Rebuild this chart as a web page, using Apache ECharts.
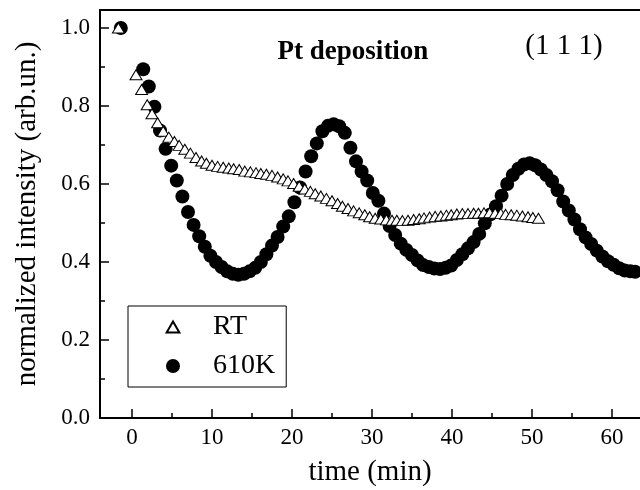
<!DOCTYPE html>
<html>
<head>
<meta charset="utf-8">
<script src="https://cdn.jsdelivr.net/npm/echarts@6/dist/echarts.min.js"></script>
<style>
  html, body { margin: 0; padding: 0; background: #fff; }
  #chart { width: 640px; height: 490px; }
</style>
</head>
<body>
<div id="chart"></div>
<script>
// Normalized (1 1 1) intensity during Pt deposition, time in minutes.

// RT series (open triangles)
const rtTime = [
  -1.7, 0.5, 1.2, 1.9, 2.5, 3.2, 3.9, 4.6, 5.3, 5.9, 6.6, 7.3, 8.0, 8.7, 9.3,
  10.0, 10.7, 11.4, 12.1, 12.7, 13.4, 14.1, 14.8, 15.5, 16.1, 16.8, 17.5, 18.2,
  18.9, 19.5, 20.2, 20.9, 21.6, 22.3, 22.9, 23.6, 24.3, 25.0, 25.7, 26.3, 27.0,
  27.7, 28.4, 29.1, 29.7, 30.4, 31.1, 31.8, 32.5, 33.1, 33.8, 34.5, 35.2, 35.9,
  36.5, 37.2, 37.9, 38.6, 39.3, 39.9, 40.6, 41.3, 42.0, 42.7, 43.3, 44.0, 44.7,
  45.4, 46.1, 46.7, 47.4, 48.1, 48.8, 49.5, 50.1, 50.8
];
const rtValue = [
  1.000, 0.880, 0.842, 0.803, 0.780, 0.757, 0.735, 0.720, 0.709, 0.699, 0.689,
  0.679, 0.668, 0.659, 0.653, 0.648, 0.645, 0.643, 0.641, 0.639, 0.637, 0.633,
  0.631, 0.629, 0.627, 0.625, 0.622, 0.618, 0.613, 0.608, 0.601, 0.594, 0.587,
  0.581, 0.575, 0.569, 0.563, 0.557, 0.550, 0.543, 0.537, 0.531, 0.526, 0.521,
  0.516, 0.512, 0.510, 0.508, 0.507, 0.507, 0.506, 0.507, 0.509, 0.511, 0.513,
  0.515, 0.517, 0.518, 0.520, 0.521, 0.523, 0.524, 0.524, 0.525, 0.525, 0.526,
  0.526, 0.525, 0.524, 0.522, 0.521, 0.520, 0.518, 0.516, 0.514, 0.512
];

// 610K series (filled circles)
const hotTime = [
  -1.4, 1.4, 2.1, 2.8, 3.5, 4.2, 4.9, 5.6, 6.3, 7.0, 7.7, 8.4, 9.1, 9.8, 10.5,
  11.2, 11.9, 12.6, 13.3, 14.0, 14.7, 15.4, 16.1, 16.8, 17.5, 18.2, 18.9, 19.6,
  20.3, 21.0, 21.7, 22.4, 23.1, 23.8, 24.5, 25.2, 25.9, 26.6, 27.3, 28.0, 28.7,
  29.4, 30.1, 30.8, 31.5, 32.2, 32.9, 33.6, 34.3, 35.0, 35.7, 36.4, 37.1, 37.8,
  38.5, 39.2, 39.9, 40.6, 41.3, 42.0, 42.7, 43.4, 44.1, 44.8, 45.5, 46.2, 46.9,
  47.6, 48.3, 49.0, 49.7, 50.4, 51.1, 51.8, 52.5, 53.2, 53.9, 54.6, 55.3, 56.0,
  56.7, 57.4, 58.1, 58.8, 59.5, 60.2, 60.9, 61.6, 62.3, 62.9
];
const hotValue = [
  1.000, 0.894, 0.850, 0.798, 0.737, 0.690, 0.647, 0.609, 0.568, 0.528, 0.495,
  0.466, 0.439, 0.416, 0.400, 0.387, 0.376, 0.370, 0.367, 0.370, 0.376, 0.385,
  0.400, 0.420, 0.442, 0.464, 0.491, 0.517, 0.553, 0.591, 0.632, 0.671, 0.704,
  0.735, 0.749, 0.753, 0.748, 0.731, 0.693, 0.658, 0.632, 0.609, 0.577, 0.557,
  0.524, 0.492, 0.469, 0.447, 0.431, 0.418, 0.404, 0.392, 0.387, 0.383, 0.382,
  0.385, 0.391, 0.405, 0.420, 0.435, 0.451, 0.472, 0.499, 0.522, 0.543, 0.570,
  0.600, 0.623, 0.639, 0.650, 0.653, 0.648, 0.637, 0.623, 0.607, 0.584, 0.555,
  0.532, 0.509, 0.484, 0.463, 0.446, 0.429, 0.414, 0.402, 0.393, 0.384, 0.378,
  0.376, 0.375
];

// Axis ticks and labels
const xMajorTicks = [0, 10, 20, 30, 40, 50, 60];
const xMinorTicks = [5, 15, 25, 35, 45, 55];
const yMajorTicks = [0.0, 0.2, 0.4, 0.6, 0.8, 1.0];
const yMinorTicks = [0.1, 0.3, 0.5, 0.7, 0.9];

const seriesNames = ['RT', '610K'];

// Legend triangle: a padded outline so it keeps its proportions inside the icon box
const legendTriangle = 'path://M0,0 M16,14 M1.65,12.5 L14.35,12.5 L8,1.5 Z';
const seriesIcons = [legendTriangle, 'circle'];

const FONT = '"Liberation Serif", "Times New Roman", serif';
const X_MIN = -4, X_MAX = 63.5, Y_MIN = 0, Y_MAX = 1.046;

function pairs(xs, ys) {
  return xs.map((x, i) => [x, ys[i]]);
}

const chart = echarts.init(document.getElementById('chart'), null, { renderer: 'canvas' });

const baseX = { type: 'value', min: X_MIN, max: X_MAX, splitLine: { show: false } };
const baseY = { type: 'value', min: Y_MIN, max: Y_MAX, splitLine: { show: false } };

chart.setOption({
  animation: false,
  backgroundColor: '#fff',
  grid: { left: 100, right: 0, top: 10, bottom: 72, containLabel: false, outerBoundsMode: 'none' },
  xAxis: [
    Object.assign({}, baseX, {
      position: 'bottom',
      name: 'time (min)',
      nameLocation: 'middle',
      nameGap: 40,
      nameTextStyle: { fontFamily: FONT, fontSize: 29, color: '#000' },
      axisLine: { show: true, onZero: false, lineStyle: { color: '#000', width: 2 } },
      axisTick: { show: true, inside: true, length: 9, customValues: xMajorTicks, lineStyle: { color: '#000', width: 1.5 } },
      axisLabel: { show: true, margin: 8, customValues: xMajorTicks, fontFamily: FONT, fontSize: 23, color: '#000', formatter: v => String(v) }
    }),
    Object.assign({}, baseX, {
      position: 'bottom',
      axisLine: { show: false, onZero: false },
      axisTick: { show: true, inside: true, length: 5, customValues: xMinorTicks, lineStyle: { color: '#000', width: 1.5 } },
      axisLabel: { show: false }
    }),
    Object.assign({}, baseX, {
      position: 'top',
      axisLine: { show: true, onZero: false, lineStyle: { color: '#000', width: 2 } },
      axisTick: { show: false },
      axisLabel: { show: false }
    })
  ],
  yAxis: [
    Object.assign({}, baseY, {
      position: 'left',
      name: 'normalized intensity (arb.un.)',
      nameLocation: 'middle',
      nameGap: 58,
      nameTextStyle: { fontFamily: FONT, fontSize: 29, color: '#000' },
      axisLine: { show: true, onZero: false, lineStyle: { color: '#000', width: 2 } },
      axisTick: { show: true, inside: true, length: 9, customValues: yMajorTicks, lineStyle: { color: '#000', width: 1.5 } },
      axisLabel: { show: true, margin: 10, customValues: yMajorTicks, fontFamily: FONT, fontSize: 23, color: '#000', formatter: v => v.toFixed(1) }
    }),
    Object.assign({}, baseY, {
      position: 'left',
      axisLine: { show: false, onZero: false },
      axisTick: { show: true, inside: true, length: 5, customValues: yMinorTicks, lineStyle: { color: '#000', width: 1.5 } },
      axisLabel: { show: false }
    })
  ],
  legend: {
    data: seriesNames.map((n, i) => ({ name: n, icon: seriesIcons[i] })),
    orient: 'vertical',
    left: 128,
    top: 306,
    padding: [7, 11, 7, 36],
    itemGap: 11,
    itemWidth: 70,
    itemHeight: 14,
    symbolKeepAspect: true,
    backgroundColor: '#fff',
    borderColor: '#000',
    borderWidth: 1,
    borderRadius: 0,
    textStyle: { fontFamily: FONT, fontSize: 28, color: '#000' }
  },
  graphic: [
    {
      type: 'text', x: 353, y: 52, z: 10,
      style: { text: 'Pt deposition', fontFamily: FONT, fontSize: 27, fontWeight: 'bold', fill: '#000',
               align: 'center', verticalAlign: 'middle', textAlign: 'center', textVerticalAlign: 'middle' }
    },
    {
      type: 'text', x: 564, y: 46, z: 10,
      style: { text: '(1 1 1)', fontFamily: FONT, fontSize: 29, fill: '#000',
               align: 'center', verticalAlign: 'middle', textAlign: 'center', textVerticalAlign: 'middle' }
    }
  ],
  series: [
    {
      name: '610K',
      type: 'scatter',
      xAxisIndex: 0, yAxisIndex: 0,
      symbol: 'circle',
      symbolSize: 14,
      itemStyle: { color: '#000', opacity: 1 },
      emphasis: { disabled: true },
      z: 2,
      data: pairs(hotTime, hotValue)
    },
    {
      name: 'RT',
      type: 'scatter',
      xAxisIndex: 0, yAxisIndex: 0,
      symbol: 'triangle',
      symbolSize: [12, 10],
      itemStyle: { color: '#fff', borderColor: '#000', borderWidth: 1, opacity: 1 },
      emphasis: { disabled: true },
      z: 3,
      data: pairs(rtTime, rtValue)
    }
  ]
});
</script>
</body>
</html>
